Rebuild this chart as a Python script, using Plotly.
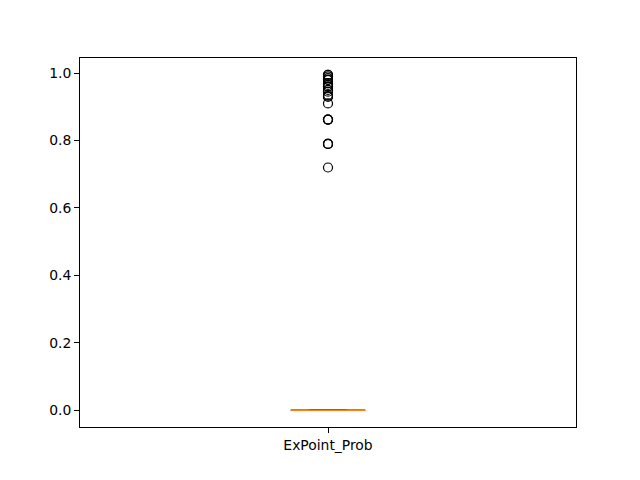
import plotly.graph_objects as go

category = ["ExPoint_Prob"]
# box statistics (q1, median, q3, whisker low, whisker high)
q1 = [0.0]
median = [0.0]
q3 = [0.0]
whisker_lo = [0.0]
whisker_hi = [0.0]
outliers = [0.995, 0.995, 0.99, 0.985, 0.98, 0.98, 0.97, 0.965, 0.96, 0.96, 0.95, 0.945,
            0.935, 0.93, 0.93, 0.91, 0.862, 0.862, 0.862, 0.79, 0.79, 0.79, 0.72]

pos = 1.0
bw = 0.15
cw = bw / 2

fig = go.Figure()
# box
fig.add_trace(go.Scatter(
    x=[pos - bw/2, pos + bw/2, pos + bw/2, pos - bw/2, pos - bw/2],
    y=[q1[0], q1[0], q3[0], q3[0], q1[0]],
    mode="lines", line=dict(color="black", width=1), showlegend=False, hoverinfo="skip"))
# whiskers
fig.add_trace(go.Scatter(x=[pos, pos], y=[q1[0], whisker_lo[0]], mode="lines",
                         line=dict(color="black", width=1), showlegend=False))
fig.add_trace(go.Scatter(x=[pos, pos], y=[q3[0], whisker_hi[0]], mode="lines",
                         line=dict(color="black", width=1), showlegend=False))
# caps
for w in (whisker_lo[0], whisker_hi[0]):
    fig.add_trace(go.Scatter(x=[pos - cw/2, pos + cw/2], y=[w, w], mode="lines",
                             line=dict(color="black", width=1), showlegend=False))
# median
fig.add_trace(go.Scatter(x=[pos - bw/2, pos + bw/2], y=[median[0], median[0]], mode="lines",
                         line=dict(color="#ff7f0e", width=1.5), showlegend=False))
# fliers
fig.add_trace(go.Scatter(x=[pos] * len(outliers), y=outliers, mode="markers",
                         marker=dict(symbol="circle-open", size=9, color="black",
                                     line=dict(width=1.2, color="black")),
                         showlegend=False))

ymin = min(whisker_lo + outliers)
ymax = max(whisker_hi + outliers)
pad = (ymax - ymin) * 0.05

axis_common = dict(showline=True, linecolor="black", linewidth=1, mirror=True,
                   ticks="outside", ticklen=5, tickcolor="black", showgrid=False,
                   zeroline=False, tickfont=dict(size=13.9, color="black"))

fig.update_layout(
    width=640, height=480,
    margin=dict(l=80, r=64, t=58, b=53),
    plot_bgcolor="white", paper_bgcolor="white",
    font=dict(family="DejaVu Sans", size=13.9, color="black"),
    xaxis=dict(range=[0.5, 1.5], tickvals=[pos], ticktext=category, **axis_common),
    yaxis=dict(range=[ymin - pad, ymax + pad], dtick=0.2, tick0=0, tickformat=".1f", **axis_common),
)

fig.write_html("out.html")
